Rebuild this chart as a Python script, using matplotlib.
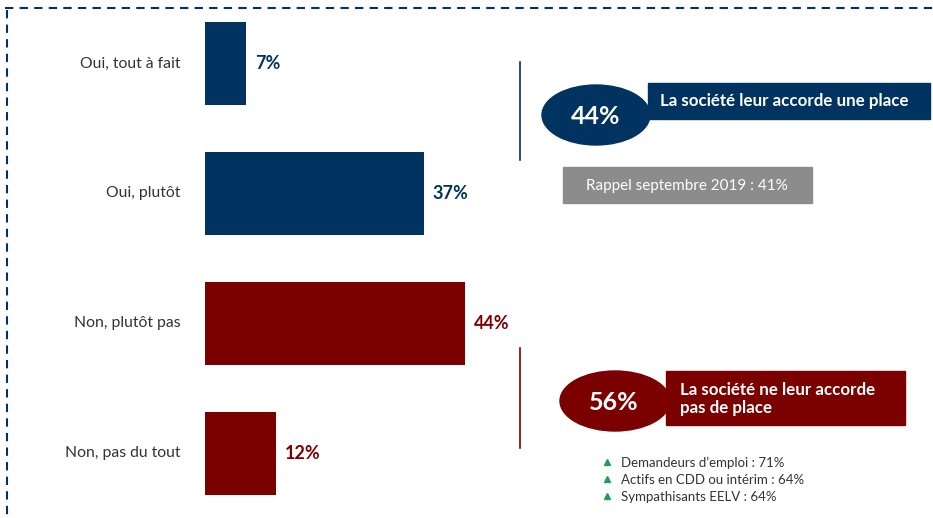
import matplotlib
matplotlib.use("Agg")
import matplotlib.pyplot as plt
from matplotlib.patches import Ellipse, Rectangle

plt.rcParams['font.family'] = ['Lato', 'DejaVu Sans']

# data
categories = ["Oui, tout à fait", "Oui, plutôt", "Non, plutôt pas", "Non, pas du tout"]
values = [7, 37, 44, 12]
colors = ["#00335f", "#00335f", "#7b0000", "#7b0000"]
oui_total = 44
non_total = 56
rappel_text = "Rappel septembre 2019 : 41%"
highlights = ["Demandeurs d\u2019emploi : 71%",
              "Actifs en CDD ou intérim : 64%",
              "Sympathisants EELV : 64%"]

navy = "#00335f"
red = "#7b0000"
W, H = 933, 518

fig = plt.figure(figsize=(W / 100, H / 100), dpi=100)

# bar axes: x=0 at pixel 205, 5.92 px per %
x0, px_per = 205, 5.92
ax_w = 50 * px_per
y_top, y_bot = 10, 510
ax = fig.add_axes([x0 / W, 1 - y_bot / H, ax_w / W, (y_bot - y_top) / H])
ypos = list(range(len(categories)))
ax.barh(ypos, values, height=0.64, color=colors)
ax.set_xlim(0, 50)
ax.set_ylim(3 + (y_bot - 453.5) / 130, -(63.5 - y_top) / 130)
for y, v, c in zip(ypos, values, colors):
    ax.text(v + 1.5, y, f"{v}%", color=c, fontsize=13, fontweight='bold',
            va='center', ha='left')
for y, lab in zip(ypos, categories):
    ax.text(-4.1, y, lab, color="#333333", fontsize=11.3, va='center', ha='right')
ax.axis('off')

# overlay in pixel coordinates for the callouts
ov = fig.add_axes([0, 0, 1, 1], zorder=-1)
ov.set_xlim(0, W)
ov.set_ylim(H, 0)
ov.axis('off')

# dashed frame
ov.plot([5, W], [8, 8], color=navy, lw=1.5, ls=(0, (4, 3)))
ov.plot([7, 7], [10, H], color=navy, lw=1.5, ls=(0, (4, 3)))

# top callout
ov.plot([520, 520], [62, 160], color=navy, lw=1.2)
ov.add_patch(Rectangle((648, 83), 282, 36, color=navy))
ov.add_patch(Ellipse((596, 115), 108, 60, color=navy))
ov.text(596, 116, f"{oui_total}%", color='white', fontsize=18, fontweight='bold',
        ha='center', va='center')
ov.text(660, 101, "La société leur accorde une place", color='white', fontsize=12.2,
        fontweight='bold', ha='left', va='center')
ov.add_patch(Rectangle((563, 167), 249, 36, color="#8c8c8c"))
ov.text(687, 186, rappel_text, color='white', fontsize=11, ha='center', va='center')

# bottom callout
ov.plot([520, 520], [348, 448], color=red, lw=1.2)
ov.add_patch(Rectangle((666, 371), 239, 54, color=red))
ov.add_patch(Ellipse((615, 401), 110, 60, color=red))
ov.text(614, 402, f"{non_total}%", color='white', fontsize=18, fontweight='bold',
        ha='center', va='center')
ov.text(680, 399, "La société ne leur accorde\npas de place", color='white', fontsize=12.2,
        fontweight='bold', ha='left', va='center', linespacing=1.2)

for i, t in enumerate(highlights):
    yy = 463 + i * 17
    ov.plot(607, yy - 1, marker='^', color="#1fa050", ms=5)
    ov.text(621, yy, t, color="#333333", fontsize=9.5, ha='left', va='center')

fig.savefig("out.png", dpi=100)
